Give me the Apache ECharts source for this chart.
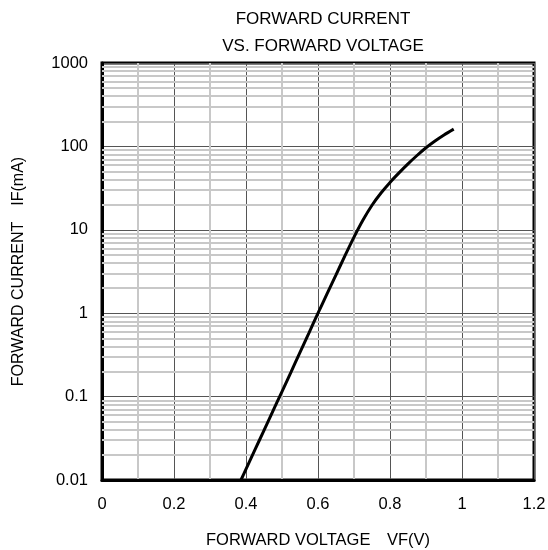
<!DOCTYPE html>
<html>
<head>
<meta charset="utf-8">
<script src="https://cdn.jsdelivr.net/npm/echarts@6/dist/echarts.min.js"></script>
<style>html,body{margin:0;padding:0;background:#fff}#c{width:548px;height:550px}</style>
</head>
<body>
<div id="c"></div>
<script>
// Data: [VF (V), IF (mA)]
var curveVF = [0.386, 0.4, 0.425, 0.45, 0.475, 0.5, 0.525, 0.55, 0.575, 0.6, 0.625, 0.65, 0.675,
               0.7, 0.725, 0.75, 0.775, 0.8, 0.825, 0.85, 0.875, 0.9, 0.925, 0.95, 0.977];
var curveIF = [0.01, 0.0135, 0.0231, 0.0394, 0.0673, 0.115, 0.197, 0.339, 0.582, 1, 1.70, 2.88, 4.90,
               8.18, 13.1, 19.7, 27.6, 37.0, 48.1, 61.7, 77.8, 96.3, 116, 137, 161];
// Axis tick definitions
var xTicks = [0, 0.2, 0.4, 0.6, 0.8, 1, 1.2];
var yDecades = [0.01, 0.1, 1, 10, 100, 1000];
var minorMultipliers = [2, 3, 4, 5, 6, 7, 8, 9];

var fontFam = '"Liberation Sans", Arial, "Noto Sans CJK JP", sans-serif';
var minorY = [];
for (var i = 0; i < yDecades.length - 1; i++) {
  for (var j = 0; j < minorMultipliers.length; j++) {
    minorY.push(yDecades[i] * minorMultipliers[j]);
  }
}
var curve = curveVF.map(function (v, i) { return [v, curveIF[i]]; });

var chart = echarts.init(document.getElementById('c'), null, {renderer: 'canvas'});
chart.setOption({
  animation: false,
  backgroundColor: '#fff',
  title: {
    text: 'FORWARD CURRENT\nVS. FORWARD VOLTAGE',
    left: 318, top: 1, textAlign: 'center',
    textStyle: {fontFamily: fontFam, fontWeight: 'normal', fontSize: 17, color: '#000', lineHeight: 27}
  },
  grid: {left: 102, top: 63, width: 432, height: 417, show: true, borderColor: '#000', borderWidth: 3,
         backgroundColor: '#fff', containLabel: false, outerBoundsMode: 'none'},
  xAxis: {
    type: 'value', min: 0, max: 1.2, interval: 0.2, z: 3,
    name: 'FORWARD VOLTAGE\u3000VF(V)', nameLocation: 'middle', nameGap: 52,
    nameTextStyle: {fontFamily: fontFam, fontSize: 16.5, color: '#000'},
    axisLine: {show: true, lineStyle: {color: '#000', width: 3}},
    axisTick: {show: false},
    axisLabel: {fontFamily: fontFam, fontSize: 16.5, color: '#000', margin: 16,
      formatter: function (v) { return String(+v.toFixed(1)); }},
    splitLine: {show: true, lineStyle: {color: '#555', width: 1}},
    minorTick: {show: false, splitNumber: 2},
    minorSplitLine: {show: true, lineStyle: {color: '#c8c8c8', width: 2}}
  },
  yAxis: {
    type: 'log', logBase: 10, min: 0.01, max: 1000, z: 3,
    name: 'FORWARD CURRENT\u3000IF(mA)', nameLocation: 'middle', nameGap: 75, nameRotate: 90,
    nameTextStyle: {fontFamily: fontFam, fontSize: 16, color: '#000'},
    axisLine: {show: true, lineStyle: {color: '#000', width: 3}},
    axisTick: {show: false},
    axisLabel: {fontFamily: fontFam, fontSize: 16.5, color: '#000', margin: 14,
      formatter: function (v) { return String(+Number(v).toPrecision(6)); }},
    splitLine: {show: true, lineStyle: {color: '#555', width: 1}}
  },
  series: [
    {
      type: 'line', z: 2, silent: true, showSymbol: false,
      data: curve, lineStyle: {opacity: 0, width: 0},
      markLine: {
        silent: true, symbol: ['none', 'none'], label: {show: false}, animation: false,
        lineStyle: {color: '#c8c8c8', width: 2, type: 'solid'},
        emphasis: {disabled: true},
        data: minorY.map(function (v) { return {yAxis: v}; })
      }
    },
    {
      type: 'line', z: 5, data: curve, smooth: 0.3, showSymbol: false,
      lineStyle: {color: '#000', width: 3}
    }
  ]
});
</script>
</body>
</html>
